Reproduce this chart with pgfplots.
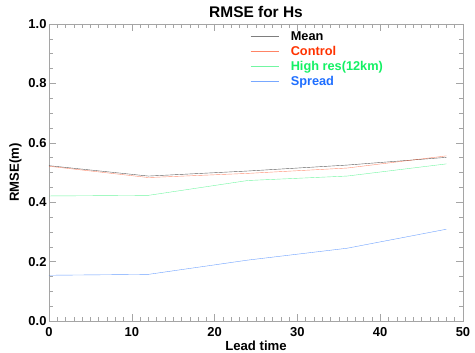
\documentclass[border=0pt]{standalone}
\usepackage{fontspec}
\setmainfont{Liberation Sans}
\usepackage{pgfplots}
\pgfplotsset{compat=1.18}
\definecolor{cmean}{RGB}{40,40,40}
\definecolor{cctrl}{RGB}{255,50,0}
\definecolor{chigh}{RGB}{20,240,100}
\definecolor{cspread}{RGB}{30,110,255}
\definecolor{axgray}{RGB}{165,165,165}
\begin{document}
\begin{tikzpicture}
\useasboundingbox (-49bp,-32bp) rectangle (426bp,321bp);
\begin{axis}[
  at={(0,0)}, anchor=south west,
  scale only axis, width=414bp, height=297bp,
  xmin=0, xmax=50, ymin=0, ymax=1,
  xtick={0,10,20,30,40,50},
  ytick={0,0.2,0.4,0.6,0.8,1.0},
  minor x tick num=9,
  minor y tick num=3,
  tick align=inside,
  major tick length=7bp,
  minor tick length=4bp,
  axis line style={axgray},
  every tick/.style={axgray, line width=0.5pt},
  /pgf/number format/assume math mode=true,
  ticklabel style={font=\fontsize{13}{15}\selectfont\bfseries},
  yticklabel style={/pgf/number format/fixed, /pgf/number format/fixed zerofill, /pgf/number format/precision=1, xshift=1bp},
  xticklabel style={yshift=-3bp},
  title={\fontsize{15.5}{17}\selectfont\bfseries RMSE for Hs},
  title style={yshift=-3bp},
  xlabel={\fontsize{13.2}{15}\selectfont\bfseries Lead time},
  xlabel style={yshift=3bp},
  ylabel={\fontsize{13.2}{15}\selectfont\bfseries RMSE(m)},
  ylabel style={yshift=0bp},
  legend style={draw=none, fill=none, at={(0.486,0.982)}, anchor=north west,
    font=\fontsize{12.8}{14}\selectfont\bfseries, row sep=0.2bp, inner sep=0pt},
  legend cell align=left,
  legend image code/.code={\draw[#1, opacity=0.6] (0bp,0bp) -- (28bp,0bp); \path (38bp,0bp);},
  legend columns=1,
  every axis plot/.append style={line width=0.4pt},
]
\addplot[cmean, opacity=0.75] coordinates {(0,0.523) (12,0.488) (24,0.505) (36,0.525) (48,0.551)};
\addlegendentry{\textcolor{black}{Mean}}
\addplot[cctrl, opacity=0.55] coordinates {(0,0.521) (12,0.483) (24,0.497) (36,0.515) (48,0.556)};
\addlegendentry{\textcolor{cctrl}{Control}}
\addplot[chigh, opacity=0.6] coordinates {(0,0.421) (12,0.423) (24,0.473) (36,0.488) (48,0.529)};
\addlegendentry{\textcolor{chigh}{High res(12km)}}
\addplot[cspread, opacity=0.65] coordinates {(0,0.154) (12,0.157) (24,0.205) (36,0.245) (48,0.309)};
\addlegendentry{\textcolor{cspread}{Spread}}
\end{axis}
\end{tikzpicture}
\end{document}
